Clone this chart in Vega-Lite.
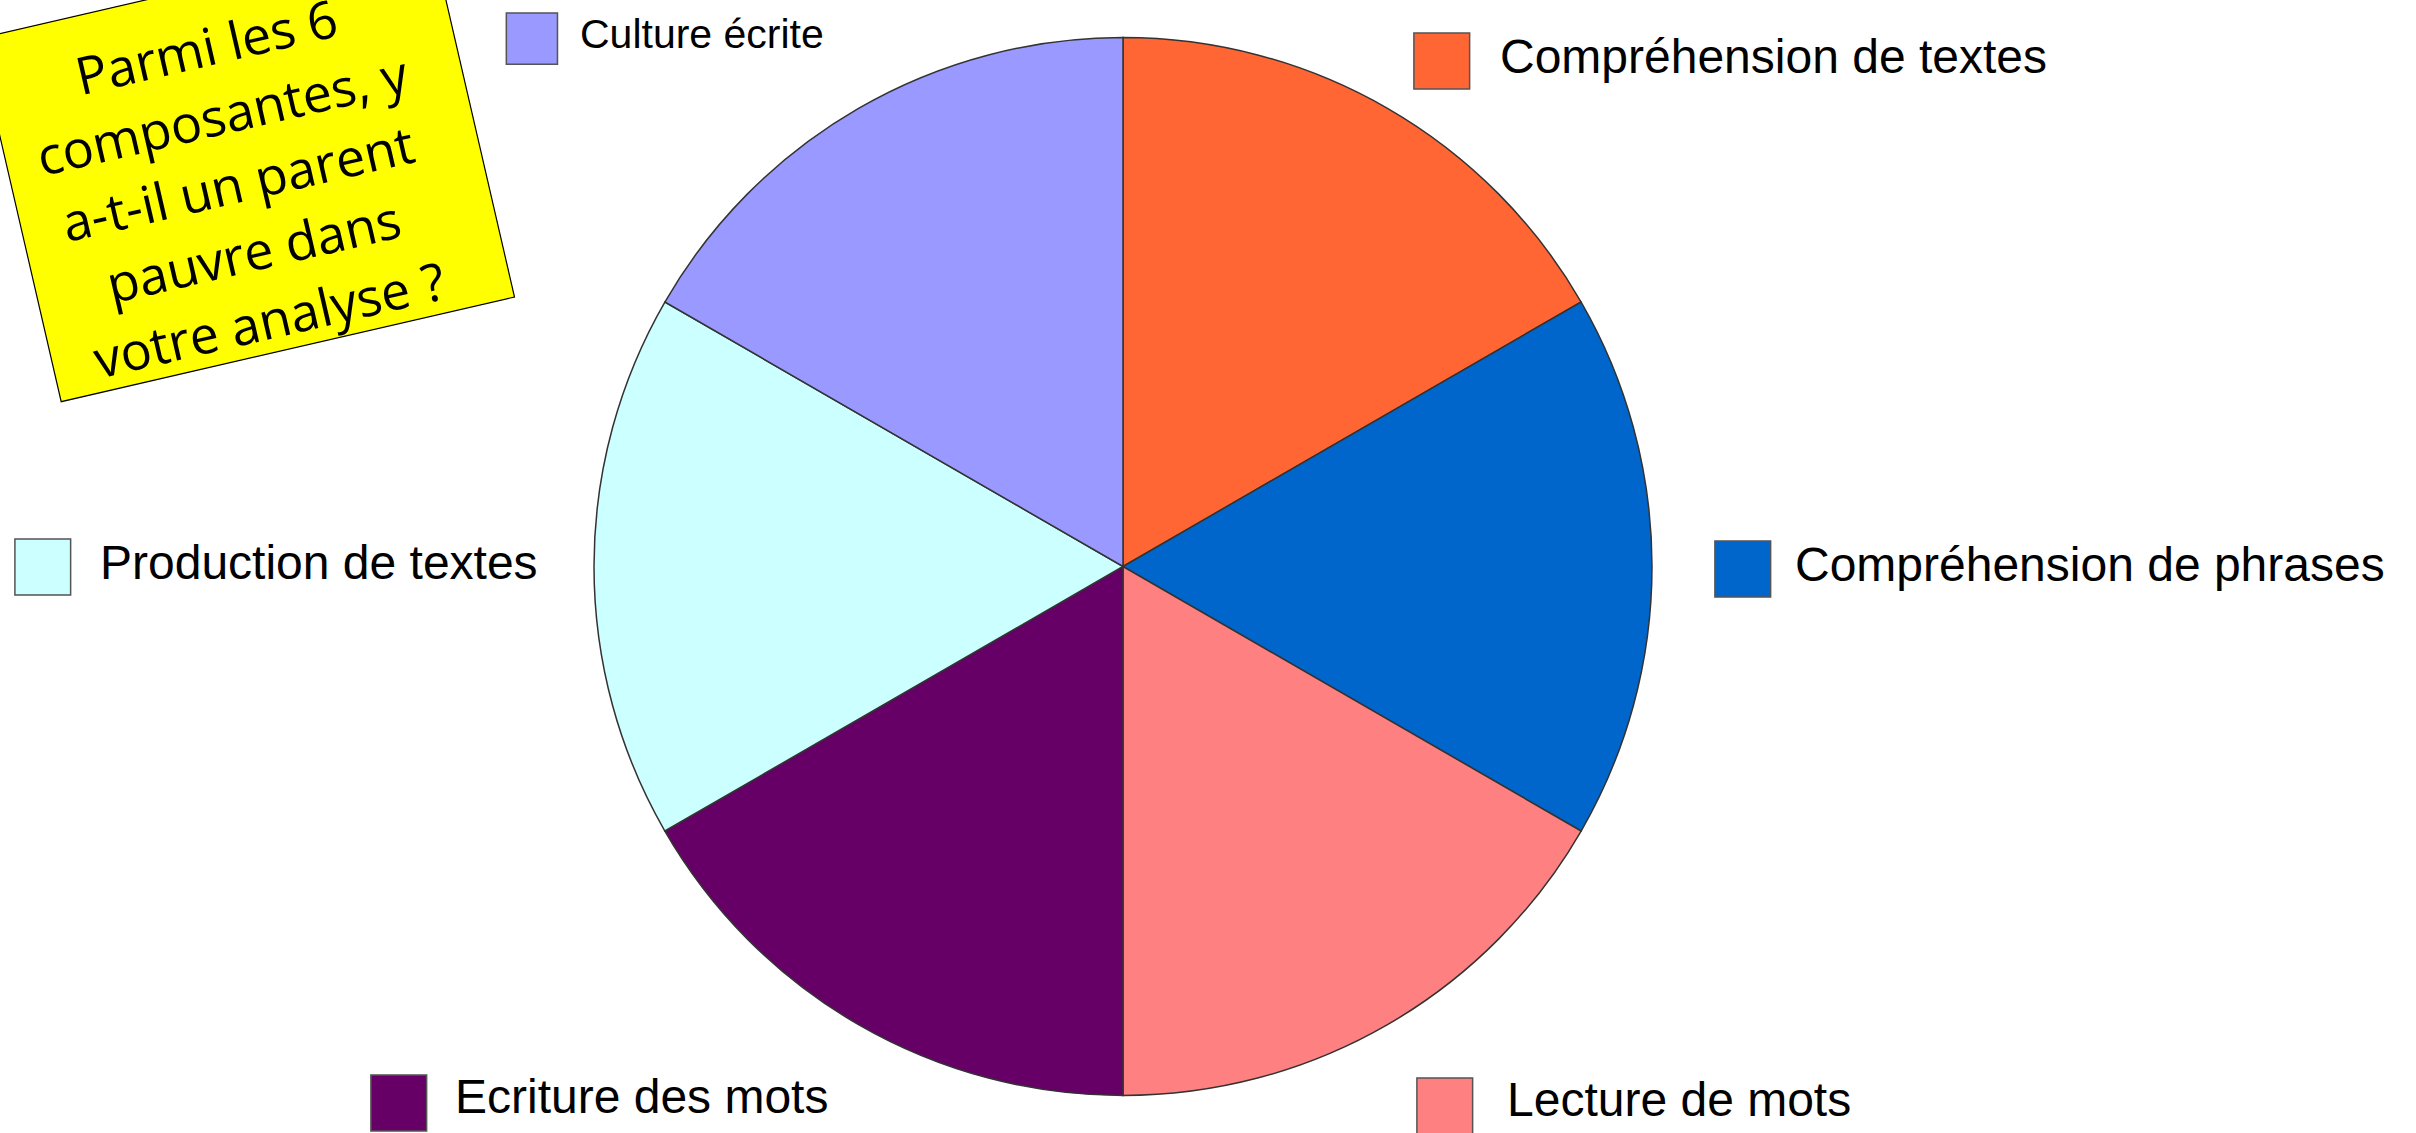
{
  "$schema": "https://vega.github.io/schema/vega-lite/v6.json",
  "width": 2246,
  "height": 1133,
  "autosize": {"type": "none"},
  "padding": {"left": 0, "top": 0, "right": 170, "bottom": 0},
  "background": "white",
  "config": {"view": {"stroke": null}},
  "data": {"values": [
    {"composante": "Compréhension de textes", "part": 1, "ordre": 1},
    {"composante": "Compréhension de phrases", "part": 1, "ordre": 2},
    {"composante": "Lecture de mots", "part": 1, "ordre": 3},
    {"composante": "Ecriture des mots", "part": 1, "ordre": 4},
    {"composante": "Production de textes", "part": 1, "ordre": 5},
    {"composante": "Culture écrite", "part": 1, "ordre": 6}
  ]},
  "layer": [
    {
      "mark": {"type": "arc", "outerRadius": 529, "stroke": "#333333", "strokeWidth": 1.5},
      "encoding": {
        "theta": {"field": "part", "type": "quantitative", "stack": true},
        "order": {"field": "ordre", "type": "quantitative"},
        "color": {"field": "composante", "type": "nominal", "legend": null,
          "scale": {"domain": ["Compréhension de textes", "Compréhension de phrases", "Lecture de mots", "Ecriture des mots", "Production de textes", "Culture écrite"],
                    "range": ["#FF6633", "#0066CC", "#FF8080", "#660066", "#CCFFFF", "#9999FF"]}}
      }
    },
    {
      "mark": {"type": "text", "radius": 600, "dx": 19, "dy": 11, "align": "center", "baseline": "middle", "font": "DejaVu Sans", "fontSize": 73, "stroke": "#555555", "strokeWidth": 1.5},
      "encoding": {
        "theta": {"field": "part", "type": "quantitative", "stack": true},
        "order": {"field": "ordre", "type": "quantitative"},
        "color": {"field": "composante", "type": "nominal", "legend": null},
        "text": {"condition": {"test": "datum.composante === 'Compréhension de textes'", "value": "■"}, "value": ""}
      }
    },
    {
      "mark": {"type": "text", "radius": 600, "dx": 77, "dy": 12, "align": "left", "baseline": "middle", "font": "Liberation Sans", "fontSize": 48, "color": "black"},
      "encoding": {
        "theta": {"field": "part", "type": "quantitative", "stack": true},
        "order": {"field": "ordre", "type": "quantitative"},
        "text": {"condition": {"test": "datum.composante === 'Compréhension de textes'", "field": "composante", "type": "nominal"}, "value": ""}
      }
    },
    {
      "mark": {"type": "text", "radius": 600, "dx": 20, "dy": -1, "align": "center", "baseline": "middle", "font": "DejaVu Sans", "fontSize": 73, "stroke": "#555555", "strokeWidth": 1.5},
      "encoding": {
        "theta": {"field": "part", "type": "quantitative", "stack": true},
        "order": {"field": "ordre", "type": "quantitative"},
        "color": {"field": "composante", "type": "nominal", "legend": null},
        "text": {"condition": {"test": "datum.composante === 'Compréhension de phrases'", "value": "■"}, "value": ""}
      }
    },
    {
      "mark": {"type": "text", "radius": 600, "dx": 72, "dy": 0, "align": "left", "baseline": "middle", "font": "Liberation Sans", "fontSize": 48, "color": "black"},
      "encoding": {
        "theta": {"field": "part", "type": "quantitative", "stack": true},
        "order": {"field": "ordre", "type": "quantitative"},
        "text": {"condition": {"test": "datum.composante === 'Compréhension de phrases'", "field": "composante", "type": "nominal"}, "value": ""}
      }
    },
    {
      "mark": {"type": "text", "radius": 600, "dx": 22, "dy": 17, "align": "center", "baseline": "middle", "font": "DejaVu Sans", "fontSize": 73, "stroke": "#555555", "strokeWidth": 1.5},
      "encoding": {
        "theta": {"field": "part", "type": "quantitative", "stack": true},
        "order": {"field": "ordre", "type": "quantitative"},
        "color": {"field": "composante", "type": "nominal", "legend": null},
        "text": {"condition": {"test": "datum.composante === 'Lecture de mots'", "value": "■"}, "value": ""}
      }
    },
    {
      "mark": {"type": "text", "radius": 600, "dx": 84, "dy": 16, "align": "left", "baseline": "middle", "font": "Liberation Sans", "fontSize": 48, "color": "black"},
      "encoding": {
        "theta": {"field": "part", "type": "quantitative", "stack": true},
        "order": {"field": "ordre", "type": "quantitative"},
        "text": {"condition": {"test": "datum.composante === 'Lecture de mots'", "field": "composante", "type": "nominal"}, "value": ""}
      }
    },
    {
      "mark": {"type": "text", "radius": 600, "dx": -424, "dy": 14, "align": "center", "baseline": "middle", "font": "DejaVu Sans", "fontSize": 73, "stroke": "#555555", "strokeWidth": 1.5},
      "encoding": {
        "theta": {"field": "part", "type": "quantitative", "stack": true},
        "order": {"field": "ordre", "type": "quantitative"},
        "color": {"field": "composante", "type": "nominal", "legend": null},
        "text": {"condition": {"test": "datum.composante === 'Ecriture des mots'", "value": "■"}, "value": ""}
      }
    },
    {
      "mark": {"type": "text", "radius": 600, "dx": -368, "dy": 13, "align": "left", "baseline": "middle", "font": "Liberation Sans", "fontSize": 48, "color": "black"},
      "encoding": {
        "theta": {"field": "part", "type": "quantitative", "stack": true},
        "order": {"field": "ordre", "type": "quantitative"},
        "text": {"condition": {"test": "datum.composante === 'Ecriture des mots'", "field": "composante", "type": "nominal"}, "value": ""}
      }
    },
    {
      "mark": {"type": "text", "radius": 600, "dx": -480, "dy": -3, "align": "center", "baseline": "middle", "font": "DejaVu Sans", "fontSize": 73, "stroke": "#555555", "strokeWidth": 1.5},
      "encoding": {
        "theta": {"field": "part", "type": "quantitative", "stack": true},
        "order": {"field": "ordre", "type": "quantitative"},
        "color": {"field": "composante", "type": "nominal", "legend": null},
        "text": {"condition": {"test": "datum.composante === 'Production de textes'", "value": "■"}, "value": ""}
      }
    },
    {
      "mark": {"type": "text", "radius": 600, "dx": -423, "dy": -2, "align": "left", "baseline": "middle", "font": "Liberation Sans", "fontSize": 48, "color": "black"},
      "encoding": {
        "theta": {"field": "part", "type": "quantitative", "stack": true},
        "order": {"field": "ordre", "type": "quantitative"},
        "text": {"condition": {"test": "datum.composante === 'Production de textes'", "field": "composante", "type": "nominal"}, "value": ""}
      }
    },
    {
      "mark": {"type": "text", "radius": 600, "dx": -291, "dy": -11, "align": "center", "baseline": "middle", "font": "DejaVu Sans", "fontSize": 67, "stroke": "#555555", "strokeWidth": 1.5},
      "encoding": {
        "theta": {"field": "part", "type": "quantitative", "stack": true},
        "order": {"field": "ordre", "type": "quantitative"},
        "color": {"field": "composante", "type": "nominal", "legend": null},
        "text": {"condition": {"test": "datum.composante === 'Culture écrite'", "value": "■"}, "value": ""}
      }
    },
    {
      "mark": {"type": "text", "radius": 600, "dx": -243, "dy": -11, "align": "left", "baseline": "middle", "font": "Liberation Sans", "fontSize": 41, "color": "black"},
      "encoding": {
        "theta": {"field": "part", "type": "quantitative", "stack": true},
        "order": {"field": "ordre", "type": "quantitative"},
        "text": {"condition": {"test": "datum.composante === 'Culture écrite'", "field": "composante", "type": "nominal"}, "value": ""}
      }
    },
    {
      "data": {"values": [{"question": ["Parmi les 6", "composantes, y", "a-t-il un parent", "pauvre dans", "votre analyse ?"]}]},
      "mark": {"type": "point", "shape": "M -268.6 -129.1 L 184.7 -233.8 L 268.5 129.1 L -184.8 233.8 Z", "size": 4, "filled": true, "fill": "#FFFF00", "stroke": "#000000", "strokeWidth": 1.2, "opacity": 1, "xOffset": -877, "yOffset": -398.6},
      "encoding": {}
    },
    {
      "data": {"values": [{"question": ["Parmi les 6", "composantes, y", "a-t-il un parent", "pauvre dans", "votre analyse ?"]}]},
      "mark": {"type": "text", "theta": 5.2259, "radius": 1051.6, "angle": -13, "align": "center", "baseline": "middle", "font": "Open Sans", "fontSize": 52, "lineHeight": 70, "color": "black"},
      "encoding": {"text": {"field": "question", "type": "nominal"}}
    }
  ]
}
